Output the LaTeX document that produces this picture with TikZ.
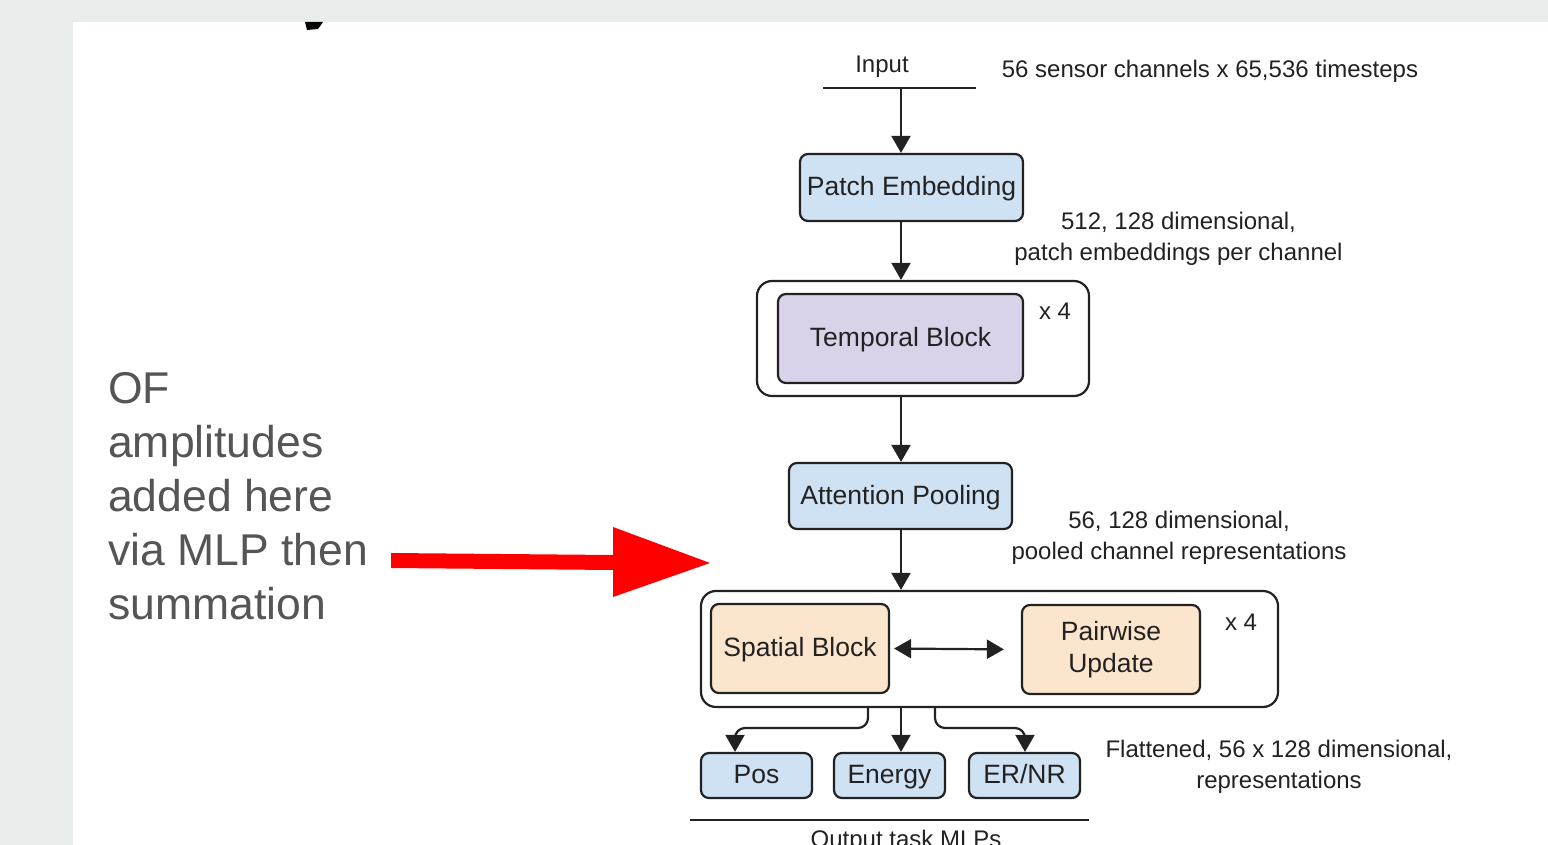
\documentclass[tikz,border=0pt]{standalone}
\usepackage{fontspec}
\setmainfont{Liberation Sans}
\usepackage{tikz}
\usetikzlibrary{calc,arrows.meta}
\definecolor{pagegray}{HTML}{E8ECEA}
\definecolor{lblue}{HTML}{CFE2F3}
\definecolor{lpurple}{HTML}{D9D2E9}
\definecolor{lorange}{HTML}{FCE5CD}
\definecolor{ink}{HTML}{222222}
\definecolor{notegray}{HTML}{555555}
\tikzset{
  box/.style={draw=ink,line width=2.2pt,rounded corners=8pt,inner sep=0pt,
    text=ink,font=\fontsize{26.5}{32}\selectfont,align=center},
  onerow/.style={text height=20pt,text depth=4pt},
  outerbox/.style={draw=ink,line width=2.2pt,rounded corners=15pt,fill=white,inner sep=0pt},
  note/.style={text=ink,font=\fontsize{24}{31}\selectfont,align=center,inner sep=0pt},
  arr/.style={draw=ink,line width=2.2pt,-{Triangle[width=19pt,length=17pt]}},
  arrboth/.style={draw=ink,line width=2.2pt,{Triangle[width=19pt,length=17pt]}-{Triangle[width=19pt,length=17pt]}}
}
\begin{document}
\begin{tikzpicture}[x=1pt,y=-1pt]
\useasboundingbox (0,0) rectangle (1548,845);
\fill[pagegray] (0,0) rectangle (1548,845);
\fill[white] (73,22) rectangle (1548,845);
\fill[black] (305,22) -- (323,22) -- (318,29) -- (307,30) -- cycle;
% input
\node[note] (inputlbl) at (882,67) {Input};
\node[note] (inputnote) at (1210,71) {56 sensor channels x 65,536 timesteps};
\draw[ink,line width=2.2pt] (823,88) -- (976,88);
\coordinate (inp) at (901,88);
% temporal part
\node[box,onerow,fill=lblue,minimum width=223pt,minimum height=67pt] (patch) at (911.5,187.5) {Patch Embedding};
\node[outerbox,minimum width=332pt,minimum height=115pt] (tempouter) at (923,338.5) {};
\node[box,onerow,fill=lpurple,minimum width=245pt,minimum height=89pt] (temporal) at (900.5,338.5) {Temporal Block};
\node[note] (tempx) at (1055,311) {x 4};
\node[note] (patchnote) at (1178.5,238.5) {512, 128 dimensional,\\patch embeddings per channel};
\node[box,onerow,fill=lblue,minimum width=223pt,minimum height=66pt] (attn) at (900.5,496) {Attention Pooling};
\node[note] (attnnote) at (1179,538) {56, 128 dimensional,\\pooled channel representations};
% spatial part
\node[outerbox,minimum width=577pt,minimum height=116pt] (spatouter) at (989.5,649) {};
\node[box,onerow,fill=lorange,minimum width=178pt,minimum height=89pt] (spatial) at (800,648.5) {Spatial Block};
\node[box,fill=lorange,minimum width=178pt,minimum height=89pt] (pairwise) at (1111,649.5) {Pairwise\\Update};
\node[note] (spatx) at (1241,622) {x 4};
% outputs
\node[box,onerow,fill=lblue,minimum width=111pt,minimum height=45pt] (pos) at (756.5,775.5) {Pos};
\node[box,onerow,fill=lblue,minimum width=111pt,minimum height=45pt] (energy) at (889.5,775.5) {Energy};
\node[box,onerow,fill=lblue,minimum width=111pt,minimum height=45pt] (ernr) at (1024.5,775.5) {ER/NR};
\node[note] (outnote) at (1279,766.5) {Flattened, 56 x 128 dimensional,\\representations};
\draw[ink,line width=2.2pt] (690,820) -- (1089,820);
\node[note,anchor=base] (outlbl) at (906,847) {Output task MLPs};
% connectors
\draw[arr] (inp) -- (inp |- patch.north);
\draw[arr] (inp |- patch.south) -- (inp |- tempouter.north);
\draw[arr] (inp |- tempouter.south) -- (inp |- attn.north);
\draw[arr] (inp |- attn.south) -- (inp |- spatouter.north);
\draw[arrboth,shorten <=4pt,shorten >=17pt] (spatial.east) -- (pairwise.west);
\draw[arr,rounded corners=10pt] (868,0 |- spatouter.south) -- (868,728) -- (735,728) -- (735,0 |- pos.north);
\draw[arr] (inp |- spatouter.south) -- (inp |- energy.north);
\draw[arr,rounded corners=10pt] (935,0 |- spatouter.south) -- (935,728) -- (1025,728) -- (1025,0 |- ernr.north);
% side remark
\node[text=notegray,font=\fontsize{44.5}{54}\selectfont,align=left,anchor=base west,inner sep=0pt] (remark) at (108,619)
  {OF\\amplitudes\\added here\\via MLP then\\summation};
\fill[red] (391,553) -- (613,555) -- (613,527) -- (710,563) -- (613,597) -- (613,570) -- (391,568) -- cycle;
\end{tikzpicture}
\end{document}
